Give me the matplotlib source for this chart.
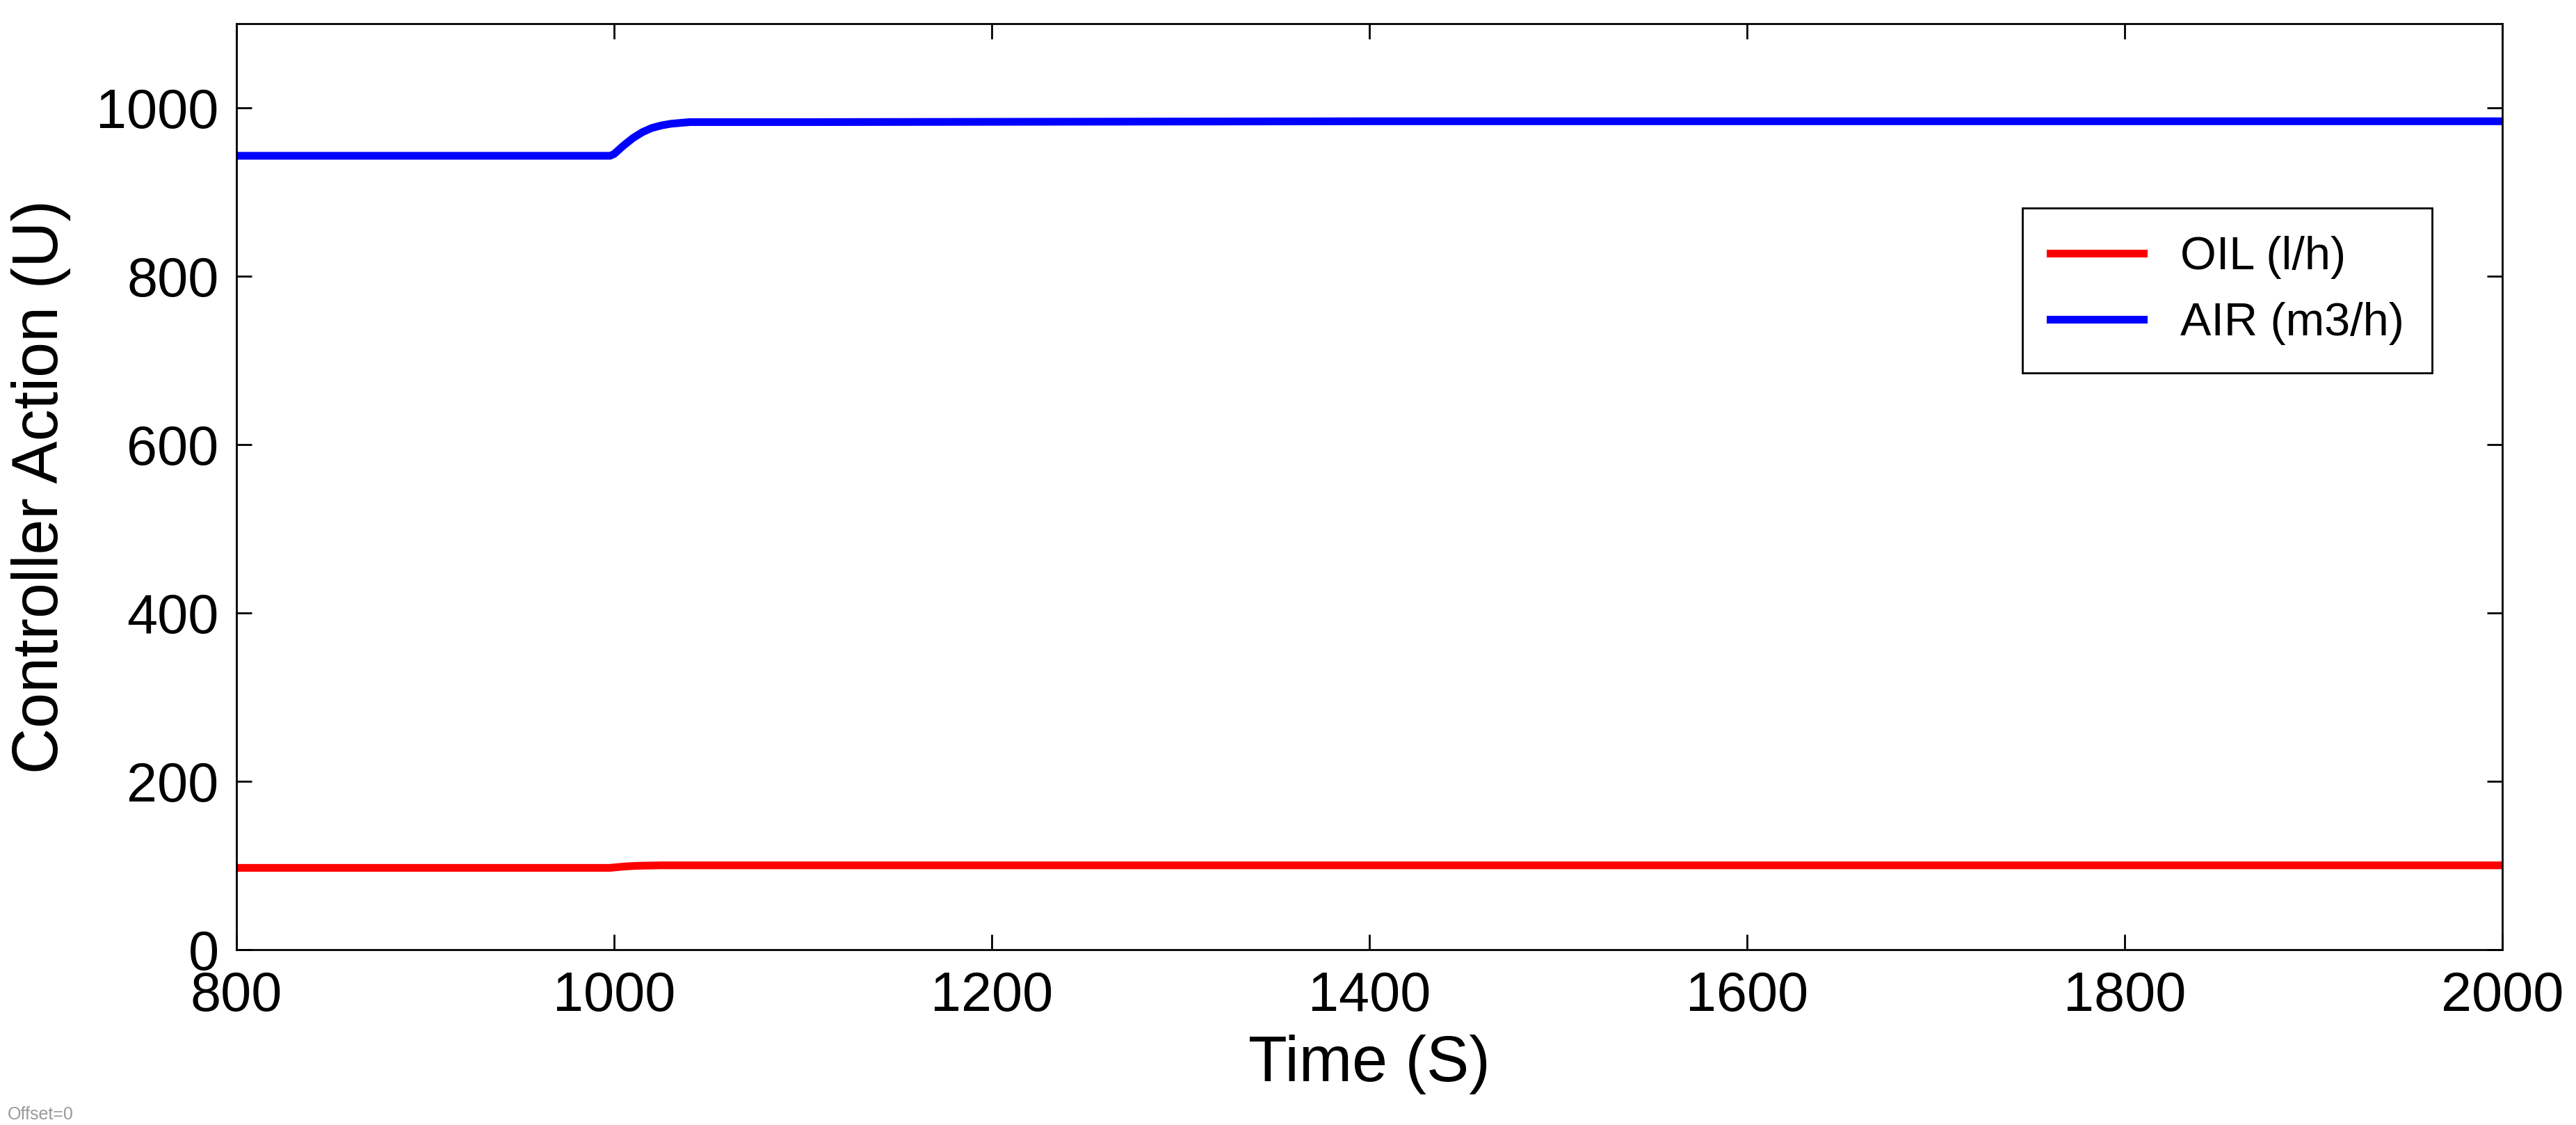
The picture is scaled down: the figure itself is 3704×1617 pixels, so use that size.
import matplotlib
matplotlib.use("Agg")
import matplotlib.pyplot as plt

# values
time = [800, 900, 998, 1000, 1005, 1010, 1015, 1020, 1025, 1030, 1035, 1040, 1050, 1100, 1400, 1600, 2000]
air = [943, 943, 943, 945, 955, 964, 971, 976, 979, 981, 982, 983, 983, 983, 984, 984, 984]
oil = [97, 97, 97, 97.5, 98.5, 99.2, 99.6, 99.8, 100, 100, 100, 100, 100, 100, 100, 100, 100]

plt.rcParams['font.family'] = ['Liberation Sans', 'DejaVu Sans']

fig = plt.figure(figsize=(37.05, 16.17), dpi=100)
ax = fig.add_axes([0.0917, 0.156, 0.8795, 0.823])
ax.plot(time, oil, color="#ff0000", lw=8, label="OIL (l/h)")
ax.plot(time, air, color="#0000ff", lw=8, label="AIR (m3/h)")
ax.set_xlim(800, 2000)
ax.set_ylim(0, 1100)
ax.set_xticks(range(800, 2001, 200))
ax.set_yticks(range(0, 1001, 200))
ax.tick_params(labelsize=57, length=16, width=2, direction="in", top=True, right=True)
ax.tick_params(axis="x", pad=22)
ax.tick_params(axis="y", pad=18)
for s in ax.spines.values():
    s.set_linewidth(2)
ax.set_xlabel("Time (S)", fontsize=66, labelpad=12)
ax.set_ylabel("Controller Action (U)", fontsize=66, labelpad=26)
leg = ax.legend(loc="upper left", bbox_to_anchor=(0.778, 0.826), fontsize=48,
                fancybox=False, edgecolor="black", framealpha=1,
                handlelength=2.0, borderpad=0.6, labelspacing=0.5)
leg.get_frame().set_linewidth(2)
fig.text(0.003, 0.005, "Offset=0", fontsize=18, color="#999999")
fig.savefig("out.png", dpi=100)
